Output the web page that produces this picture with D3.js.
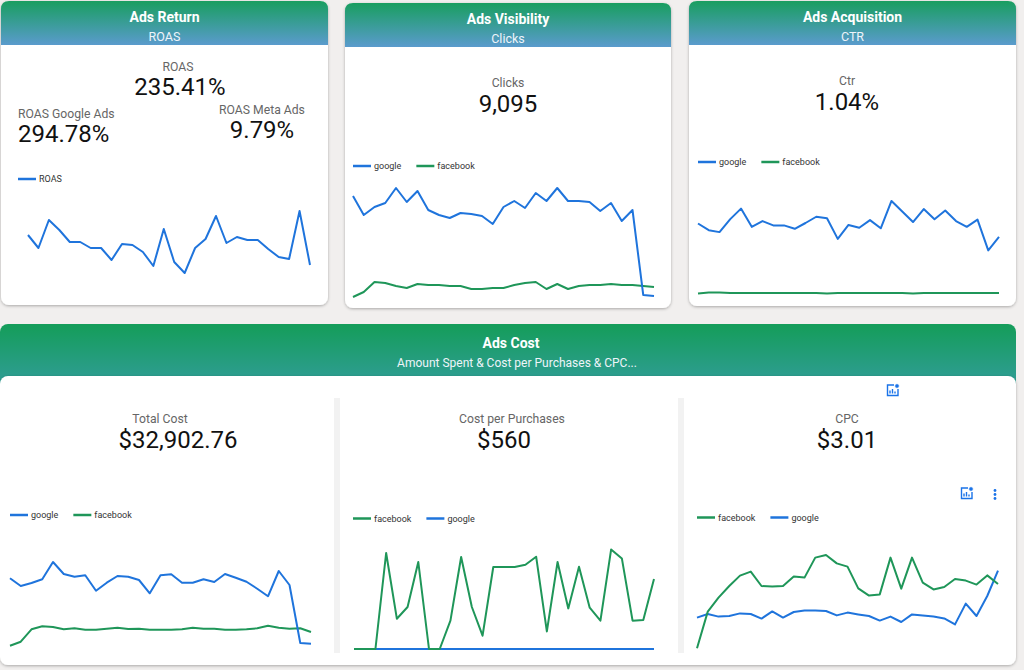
<!DOCTYPE html>
<html>
<head>
<meta charset="utf-8">
<script src="https://cdn.jsdelivr.net/npm/d3@7/dist/d3.min.js"></script>
<style>
body{margin:0;background:#f1efee;font-family:Roboto,"Noto Sans",sans-serif;}
svg{display:block}
</style>
</head>
<body>
<svg id="dash"></svg>
<script>
// daily values (28 / 29 days)
const roas_total = [300,222,390,330,258,258,222,222,150,246,240,198,114,336,138,72,222,276,414,252,288,270,270,216,168,156,444,120];

const clicks_google = [309,252,276,288,333,291,324,267,252,243,258,255,249,225,276,294,273,318,294,333,294,294,291,264,288,234,267,12,9];
const clicks_facebook = [6,21,51,48,39,33,45,42,42,39,39,30,30,33,33,42,48,51,30,45,30,39,42,42,45,42,42,39,36];

const ctr_google = [1.49,1.35,1.31,1.58,1.80,1.42,1.54,1.45,1.45,1.38,1.50,1.63,1.60,1.17,1.46,1.40,1.56,1.39,1.96,1.74,1.52,1.79,1.58,1.76,1.54,1.42,1.57,0.93,1.21];
const ctr_facebook = [0.03,0.05,0.05,0.04,0.04,0.04,0.04,0.04,0.04,0.04,0.04,0.04,0.03,0.04,0.04,0.04,0.04,0.04,0.04,0.04,0.03,0.04,0.04,0.04,0.04,0.04,0.04,0.04,0.04];

const cost_google = [976,868,910,962,1204,1036,998,1018,802,914,1008,998,952,766,1018,1032,914,914,962,924,1036,984,928,830,724,1078,882,70,60];
const cost_facebook = [32,88,262,304,294,262,276,256,256,270,284,266,270,256,256,256,262,284,270,270,256,256,262,276,312,284,270,276,224];

const cpp_facebook = [0,0,0,960,303,420,870,0,0,283,920,420,133,820,820,820,843,923,176,870,406,823,413,283,996,906,283,290,700];
const cpp_google = [0,0,0,0,0,0,0,0,0,0,0,0,0,0,0,0,0,0,0,0,0,0,0,0,0,0,0,0,0];

const cpc_facebook = [0.84,2.67,3.37,3.95,4.47,4.67,3.95,3.92,3.95,4.42,4.37,5.37,5.50,5.08,4.92,3.83,3.47,3.53,5.37,3.82,5.37,4.12,3.78,3.90,4.30,4.22,4.02,4.48,4.05];
const cpc_google = [2.37,2.55,2.42,2.45,2.58,2.55,2.32,2.68,2.37,2.65,2.73,2.73,2.70,2.48,2.62,2.53,2.45,2.22,2.42,2.15,2.53,2.47,2.42,2.33,2.03,3.07,2.45,3.45,4.72];

const scorecards = [
    {label:"ROAS", value:"235.41%", x:178, y:71, vy:95, anchor:"middle", vx:180},
    {label:"ROAS Google Ads", value:"294.78%", x:18, y:118, vy:142, anchor:"start"},
    {label:"ROAS Meta Ads", value:"9.79%", x:262, y:114, vy:138, anchor:"middle"},
    {label:"Clicks", value:"9,095", x:508, y:87, vy:112, anchor:"middle"},
    {label:"Ctr", value:"1.04%", x:847, y:85, vy:110, anchor:"middle"},
    {label:"Total Cost", value:"$32,902.76", x:160, y:423, vy:448, anchor:"middle", vx:178},
    {label:"Cost per Purchases", value:"$560", x:512, y:423, vy:448, anchor:"middle", vx:504},
    {label:"CPC", value:"$3.01", x:847, y:423, vy:448, anchor:"middle"}
];

const BLUE = "#1f74dc";
const GREEN = "#1f9659";

class Line_chart{
    constructor(config,series){
        this.config = {
            parent:config.parent,
            left:config.left,
            right:config.right,
            bottom:config.bottom,
            top:config.top,
            ymax:config.ymax,
            legend:config.legend
        };
        this.series = series;
        this.init();
    }
    init(){
        let self = this;
        let n = self.series[0].values.length;
        self.xscale = d3.scaleLinear()
            .domain([0,n-1])
            .range([self.config.left,self.config.right]);
        self.yscale = d3.scaleLinear()
            .domain([0,self.config.ymax])
            .range([self.config.bottom,self.config.top]);
        self.line = d3.line()
            .x((d,i)=>self.xscale(i))
            .y(d=>self.yscale(d));
        self.chart = self.config.parent.append("g");
        self.render();
    }
    render(){
        let self = this;
        // draw in reverse so the first series sits on top
        self.chart.selectAll("path.series")
            .data(self.series.slice().reverse())
            .enter()
            .append("path")
            .attr("class","series")
            .attr("d",d=>self.line(d.values))
            .attr("fill","none")
            .attr("stroke",d=>d.color)
            .attr("stroke-width",2)
            .attr("stroke-linejoin","round");

        let lx = self.config.legend.x;
        let ly = self.config.legend.y;
        self.series.forEach(s=>{
            self.chart.append("line")
                .attr("x1",lx).attr("x2",lx+18)
                .attr("y1",ly).attr("y2",ly)
                .attr("stroke",s.color)
                .attr("stroke-width",2.5);
            let t = self.chart.append("text")
                .attr("x",lx+21)
                .attr("y",ly+3.2)
                .attr("font-size",9)
                .attr("fill","#333")
                .text(s.name);
            lx += 21+t.node().getComputedTextLength()+15;
        });
    }
}

const svg = d3.select("#dash").attr("width",1024).attr("height",670);
const defs = svg.append("defs");

let g1 = defs.append("linearGradient").attr("id","hdrTop").attr("x1",0).attr("y1",0).attr("x2",0).attr("y2",1);
g1.append("stop").attr("offset","0%").attr("stop-color","#199e60");
g1.append("stop").attr("offset","100%").attr("stop-color","#5a9bcd");
let g2 = defs.append("linearGradient").attr("id","hdrBottom").attr("gradientUnits","userSpaceOnUse")
    .attr("x1",0).attr("y1",326).attr("x2",0).attr("y2",377);
g2.append("stop").attr("offset","0%").attr("stop-color","#159d5b");
g2.append("stop").attr("offset","100%").attr("stop-color","#2d9d8f");

defs.append("filter").attr("id","shadow").attr("x","-5%").attr("y","-5%").attr("width","110%").attr("height","115%")
    .append("feDropShadow").attr("dx",0).attr("dy",1).attr("stdDeviation",1.4)
    .attr("flood-color","#000").attr("flood-opacity",0.3);

function topRounded(x,y,w,h,r){
    return `M${x},${y+h}V${y+r}Q${x},${y} ${x+r},${y}H${x+w-r}Q${x+w},${y} ${x+w},${y+r}V${y+h}Z`;
}

// top cards
const cards = [
    {x:1, y:1, w:327, h:304, head:44, title:"Ads Return", sub:"ROAS"},
    {x:345, y:3, w:326, h:305, head:44, title:"Ads Visibility", sub:"Clicks"},
    {x:689, y:1, w:327, h:305, head:44, title:"Ads Acquisition", sub:"CTR"}
];
cards.forEach(c=>{
    svg.append("rect")
        .attr("x",c.x).attr("y",c.y).attr("width",c.w).attr("height",c.h)
        .attr("rx",8).attr("fill","#fff").attr("filter","url(#shadow)");
    svg.append("path")
        .attr("d",topRounded(c.x,c.y,c.w,c.head,8))
        .attr("fill","url(#hdrTop)");
    svg.append("text")
        .attr("x",c.x+c.w/2).attr("y",c.y+21)
        .attr("text-anchor","middle").attr("font-size",14).attr("font-weight","bold")
        .attr("fill","#fff").text(c.title);
    svg.append("text")
        .attr("x",c.x+c.w/2).attr("y",c.y+39.5)
        .attr("text-anchor","middle").attr("font-size",12.5)
        .attr("fill","#eef4fa").text(c.sub);
});

// bottom card
svg.append("rect")
    .attr("x",0).attr("y",324).attr("width",1016).attr("height",70)
    .attr("rx",8).attr("fill","url(#hdrBottom)");
svg.append("rect")
    .attr("x",0).attr("y",376).attr("width",1016).attr("height",289)
    .attr("rx",8).attr("fill","#fff").attr("filter","url(#shadow)");
svg.append("text")
    .attr("x",511).attr("y",348)
    .attr("text-anchor","middle").attr("font-size",14).attr("font-weight","bold")
    .attr("fill","#fff").text("Ads Cost");
svg.append("text")
    .attr("x",517).attr("y",366.5)
    .attr("text-anchor","middle").attr("font-size",12)
    .attr("fill","#eef4fa").text("Amount Spent & Cost per Purchases & CPC...");
[334,678].forEach(x=>{
    svg.append("rect").attr("x",x).attr("y",398).attr("width",6).attr("height",255).attr("fill","#f2f2f2");
});

// scorecards
scorecards.forEach(s=>{
    svg.append("text")
        .attr("x",s.x).attr("y",s.y)
        .attr("text-anchor",s.anchor).attr("font-size",12.2)
        .attr("fill","#666").text(s.label);
    svg.append("text")
        .attr("x",s.vx===undefined?s.x:s.vx).attr("y",s.vy)
        .attr("text-anchor",s.anchor).attr("font-size",24)
        .attr("fill","#111").text(s.value);
});

// line charts
new Line_chart({parent:svg,left:28,right:310,bottom:285,top:210,ymax:450,legend:{x:18,y:179}},
    [{name:"ROAS",values:roas_total,color:BLUE}]);
new Line_chart({parent:svg,left:353,right:654,bottom:299,top:188,ymax:333,legend:{x:353,y:166}},
    [{name:"google",values:clicks_google,color:BLUE},{name:"facebook",values:clicks_facebook,color:GREEN}]);
new Line_chart({parent:svg,left:698,right:999,bottom:295,top:199,ymax:2,legend:{x:698,y:162}},
    [{name:"google",values:ctr_google,color:BLUE},{name:"facebook",values:ctr_facebook,color:GREEN}]);
new Line_chart({parent:svg,left:10,right:311,bottom:648,top:562,ymax:1204,legend:{x:10,y:515}},
    [{name:"google",values:cost_google,color:BLUE},{name:"facebook",values:cost_facebook,color:GREEN}]);
new Line_chart({parent:svg,left:354,right:654,bottom:649,top:549,ymax:1000,legend:{x:353,y:518.5}},
    [{name:"facebook",values:cpp_facebook,color:GREEN},{name:"google",values:cpp_google,color:BLUE}]);
new Line_chart({parent:svg,left:697,right:998,bottom:665,top:545,ymax:6,legend:{x:697,y:517.5}},
    [{name:"facebook",values:cpc_facebook,color:GREEN},{name:"google",values:cpc_google,color:BLUE}]);

// toolbar icons
function chartIcon(x,y){
    let ic = svg.append("g").attr("transform",`translate(${x},${y})`).attr("fill","none").attr("stroke","#1a73e8");
    ic.append("path").attr("d","M8,1H1.5V11.5H12V5").attr("stroke-width",1.4);
    ic.append("path").attr("d","M4,9.5V6.5M6.5,9.5V5M9,9.5V7.5").attr("stroke-width",1.4);
    ic.append("circle").attr("cx",11).attr("cy",2).attr("r",2.3).attr("fill","#1a73e8").attr("stroke","#fff").attr("stroke-width",0.8);
}
chartIcon(886,384);
chartIcon(960,487);
[490.5,494.5,498.5].forEach(cy=>{
    svg.append("circle").attr("cx",995).attr("cy",cy).attr("r",1.4).attr("fill","#1a73e8");
});
</script>
</body>
</html>
